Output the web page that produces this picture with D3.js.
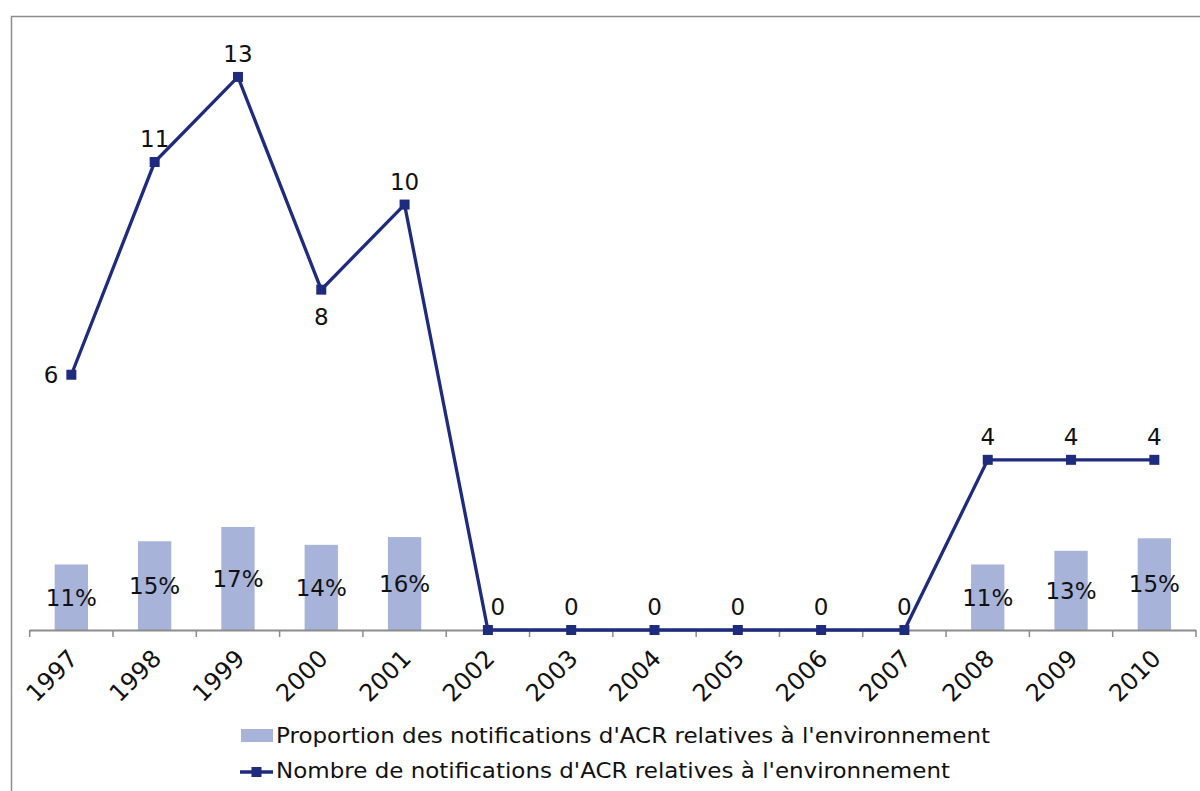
<!DOCTYPE html>
<html>
<head>
<meta charset="utf-8">
<script src="https://cdn.jsdelivr.net/npm/d3@7"></script>
<style>
  body { margin: 0; background: #fff; }
  svg { display: block; }
</style>
</head>
<body>
<script>
// data
var years = ["1997","1998","1999","2000","2001","2002","2003","2004","2005","2006","2007","2008","2009","2010"];
var counts = [6, 11, 13, 8, 10, 0, 0, 0, 0, 0, 0, 4, 4, 4];
var shares = [0.11, 0.149, 0.173, 0.143, 0.156, 0, 0, 0, 0, 0, 0, 0.11, 0.133, 0.154];
var seriesNames = ["Proportion des notifications d'ACR relatives à l'environnement",
                   "Nombre de notifications d'ACR relatives à l'environnement"];

var W = 1200, H = 791;
var lineColor = "#1f2b7d", barColor = "#a8b3d9", axisColor = "#8c8c8c";
var font = "DejaVu Sans, Verdana, sans-serif";

var svg = d3.select("body").append("svg")
    .attr("width", W)
    .attr("height", H);

// outer chart frame (runs off the right and bottom edges)
svg.append("rect")
    .attr("x", 11.5).attr("y", 16.5)
    .attr("width", 1300).attr("height", 900)
    .attr("fill", "#fff")
    .attr("stroke", axisColor)
    .attr("stroke-width", 1.5);

var x = d3.scaleBand()
    .domain(years)
    .range([29.7, 1196])
    .padding(0);

var yLine = d3.scaleLinear().domain([0, 14]).range([630, 34.4]);
var yBar = d3.scaleLinear().domain([0, 1]).range([630, 34.4]);

var cx = function(d) { return x(d) + x.bandwidth() / 2; };

// bars
var barW = x.bandwidth() * 0.4;
svg.selectAll(".bar")
    .data(years)
  .enter().append("rect")
    .attr("class", "bar")
    .attr("x", function(d) { return cx(d) - barW / 2; })
    .attr("width", barW)
    .attr("y", function(d, i) { return yBar(shares[i]); })
    .attr("height", function(d, i) { return yBar(0) - yBar(shares[i]); })
    .attr("fill", barColor);

// x axis: line with ticks on the category boundaries
var axis = svg.append("g").attr("class", "x axis");
axis.append("line")
    .attr("x1", x.range()[0]).attr("x2", x.range()[1])
    .attr("y1", 630.5).attr("y2", 630.5)
    .attr("stroke", axisColor).attr("stroke-width", 2);
axis.selectAll(".tick")
    .data(years.concat(["end"]))
  .enter().append("line")
    .attr("class", "tick")
    .attr("x1", function(d, i) { return x.range()[0] + i * x.step(); })
    .attr("x2", function(d, i) { return x.range()[0] + i * x.step(); })
    .attr("y1", 630).attr("y2", 637)
    .attr("stroke", axisColor).attr("stroke-width", 1.5);
axis.selectAll(".lbl")
    .data(years)
  .enter().append("text")
    .attr("class", "lbl")
    .attr("transform", function(d) { return "translate(" + (cx(d) - 4) + ",648) rotate(-45)"; })
    .attr("dy", "0.71em")
    .style("text-anchor", "end")
    .style("font-family", font)
    .style("font-size", "24px")
    .attr("fill", "#111")
    .text(function(d) { return d; });

// bar labels (centered in the bar)
svg.selectAll(".barlbl")
    .data(years.filter(function(d, i) { return shares[i] > 0; }))
  .enter().append("text")
    .attr("class", "barlbl")
    .attr("x", cx)
    .attr("y", function(d) { var v = shares[years.indexOf(d)]; return (yBar(v) + yBar(0)) / 2; })
    .attr("dy", "0.36em")
    .style("text-anchor", "middle")
    .style("font-family", font)
    .style("font-size", "23px")
    .attr("fill", "#111")
    .text(function(d) { return d3.format(".0%")(shares[years.indexOf(d)]); });

// line
var line = d3.line()
    .x(function(d, i) { return cx(years[i]); })
    .y(function(d) { return yLine(d); });

svg.append("path")
    .datum(counts)
    .attr("fill", "none")
    .attr("stroke", lineColor)
    .attr("stroke-width", 3.3)
    .attr("d", line);

svg.selectAll(".pt")
    .data(counts)
  .enter().append("rect")
    .attr("class", "pt")
    .attr("x", function(d, i) { return cx(years[i]) - 5; })
    .attr("y", function(d) { return yLine(d) - 5; })
    .attr("width", 10).attr("height", 10)
    .attr("fill", lineColor);

// label placement for the line values
var placement = { "1997": "left", "2000": "below", "2002": "aboveright" };
svg.selectAll(".ptlbl")
    .data(counts)
  .enter().append("text")
    .attr("class", "ptlbl")
    .attr("x", function(d, i) {
      var p = placement[years[i]];
      if (p === "left") return cx(years[i]) - 13;
      if (p === "aboveright") return cx(years[i]) + 10;
      return cx(years[i]);
    })
    .attr("y", function(d, i) {
      var p = placement[years[i]];
      if (p === "left") return yLine(d) + 8;
      if (p === "below") return yLine(d) + 35;
      return yLine(d) - 15;
    })
    .style("text-anchor", function(d, i) { return placement[years[i]] === "left" ? "end" : "middle"; })
    .style("font-family", font)
    .style("font-size", "23px")
    .attr("fill", "#111")
    .text(function(d) { return d; });

// legend
var legend = svg.append("g").attr("class", "legend")
    .style("font-family", font)
    .style("font-size", "21px")
    .attr("fill", "#111");

legend.append("rect")
    .attr("x", 241).attr("y", 729)
    .attr("width", 32).attr("height", 13)
    .attr("fill", barColor);
legend.append("text")
    .attr("x", 276).attr("y", 743)
    .attr("textLength", 714)
    .attr("lengthAdjust", "spacingAndGlyphs")
    .text(seriesNames[0]);

legend.append("line")
    .attr("x1", 240).attr("x2", 273)
    .attr("y1", 772).attr("y2", 772)
    .attr("stroke", lineColor).attr("stroke-width", 3.3);
legend.append("rect")
    .attr("x", 251.5).attr("y", 767)
    .attr("width", 10).attr("height", 10)
    .attr("fill", lineColor);
legend.append("text")
    .attr("x", 276).attr("y", 778)
    .attr("textLength", 674)
    .attr("lengthAdjust", "spacingAndGlyphs")
    .text(seriesNames[1]);
</script>
</body>
</html>
